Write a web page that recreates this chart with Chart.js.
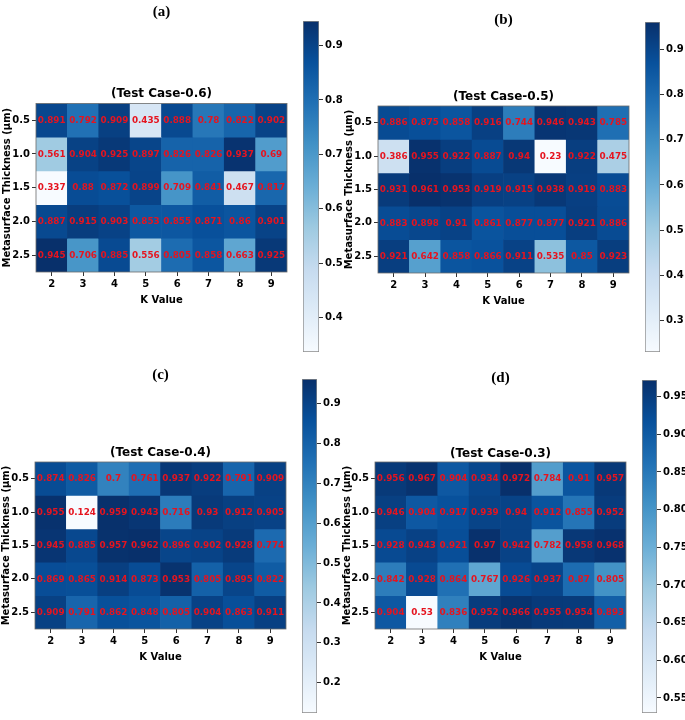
<!DOCTYPE html>
<html>
<head>
<meta charset="utf-8">
<script src="https://cdn.jsdelivr.net/npm/chart.js@4.4.1/dist/chart.umd.min.js"></script>
<style>
  html, body { margin: 0; padding: 0; background: #fff; overflow: hidden; }
  #fig { position: relative; width: 685px; height: 720px; overflow: hidden; }
  #fig canvas { position: absolute; }
</style>
</head>
<body>
<div id="fig">
  <canvas id="heatA"></canvas>
  <canvas id="heatB"></canvas>
  <canvas id="heatC"></canvas>
  <canvas id="heatD"></canvas>
  <canvas id="cbA"></canvas>
  <canvas id="cbB"></canvas>
  <canvas id="cbC"></canvas>
  <canvas id="cbD"></canvas>
</div>
<script>
// categories
const kValues = ['2', '3', '4', '5', '6', '7', '8', '9'];
const thickness = ['0.5', '1.0', '1.5', '2.0', '2.5'];

// one row per thickness, one column per K value
const case06 = [
  [0.891, 0.792, 0.909, 0.435, 0.888, 0.78, 0.822, 0.902],
  [0.561, 0.904, 0.925, 0.897, 0.826, 0.826, 0.937, 0.69],
  [0.337, 0.88, 0.872, 0.899, 0.709, 0.841, 0.467, 0.817],
  [0.887, 0.915, 0.903, 0.853, 0.855, 0.871, 0.86, 0.901],
  [0.945, 0.706, 0.885, 0.556, 0.805, 0.858, 0.663, 0.925],
];
const case05 = [
  [0.886, 0.875, 0.858, 0.916, 0.744, 0.946, 0.943, 0.785],
  [0.386, 0.955, 0.922, 0.887, 0.94, 0.23, 0.922, 0.475],
  [0.931, 0.961, 0.953, 0.919, 0.915, 0.938, 0.919, 0.883],
  [0.883, 0.898, 0.91, 0.861, 0.877, 0.877, 0.921, 0.886],
  [0.921, 0.642, 0.858, 0.866, 0.911, 0.535, 0.85, 0.923],
];
const case04 = [
  [0.874, 0.826, 0.7, 0.761, 0.937, 0.922, 0.791, 0.909],
  [0.955, 0.124, 0.959, 0.943, 0.716, 0.93, 0.912, 0.905],
  [0.945, 0.885, 0.957, 0.962, 0.896, 0.902, 0.928, 0.774],
  [0.869, 0.865, 0.914, 0.873, 0.953, 0.805, 0.895, 0.822],
  [0.909, 0.791, 0.862, 0.848, 0.805, 0.904, 0.863, 0.911],
];
const case03 = [
  [0.956, 0.967, 0.904, 0.934, 0.972, 0.784, 0.91, 0.957],
  [0.946, 0.904, 0.917, 0.939, 0.94, 0.912, 0.855, 0.952],
  [0.928, 0.943, 0.921, 0.97, 0.942, 0.782, 0.958, 0.968],
  [0.842, 0.928, 0.864, 0.767, 0.926, 0.937, 0.87, 0.805],
  [0.904, 0.53, 0.836, 0.952, 0.966, 0.955, 0.954, 0.893],
];

// colorbar tick labels
const cbTicks06 = [0.4, 0.5, 0.6, 0.7, 0.8, 0.9];
const cbTicks05 = [0.3, 0.4, 0.5, 0.6, 0.7, 0.8, 0.9];
const cbTicks04 = [0.2, 0.3, 0.4, 0.5, 0.6, 0.7, 0.8, 0.9];
const cbTicks03 = [0.55, 0.6, 0.65, 0.7, 0.75, 0.8, 0.85, 0.9, 0.95];

const FONT = "'DejaVu Sans', sans-serif";
const TEXT_RED = '#e5141f';

// matplotlib "Blues"
const blues = ['#f7fbff', '#deebf7', '#c6dbef', '#9ecae1', '#6baed6', '#4292c6', '#2171b5', '#08519c', '#08306b'];

function hexToRgb(h) {
  return [1, 3, 5].map(i => parseInt(h.slice(i, i + 2), 16));
}

function bluesColor(t) {
  t = Math.min(1, Math.max(0, t));
  const pos = t * (blues.length - 1);
  const i = Math.min(Math.floor(pos), blues.length - 2);
  const f = pos - i;
  const a = hexToRgb(blues[i]);
  const b = hexToRgb(blues[i + 1]);
  const c = a.map((v, k) => Math.round(v + (b[k] - v) * f));
  return `rgb(${c[0]}, ${c[1]}, ${c[2]})`;
}

const cellLabels = {
  id: 'cellLabels',
  afterDatasetsDraw(chart) {
    const { ctx } = chart;
    ctx.save();
    ctx.font = `bold 8.8px ${FONT}`;
    ctx.fillStyle = TEXT_RED;
    ctx.textAlign = 'center';
    ctx.textBaseline = 'middle';
    chart.data.datasets.forEach((ds, i) => {
      chart.getDatasetMeta(i).data.forEach((bar, j) => {
        const c = bar.getCenterPoint();
        ctx.fillText(String(ds.cellValues[j]), c.x, c.y + 0.5);
      });
    });
    ctx.restore();
  },
};

const frame = {
  id: 'frame',
  afterDraw(chart) {
    const { ctx, chartArea: a } = chart;
    ctx.save();
    ctx.strokeStyle = '#6b6b6b';
    ctx.lineWidth = 0.8;
    ctx.strokeRect(a.left, a.top, a.right - a.left, a.bottom - a.top);
    ctx.restore();
  },
};

const panels = [
  { heatId: 'heatA', cbId: 'cbA', label: '(a)', title: '(Test Case-0.6)', values: case06, cbTicks: cbTicks06, digits: 1,
    heat: { left: 0, top: 0, width: 290, height: 306, axisW: 36, yTitlePad: 1, labelY: 12, titleY: 94.2, plotTop: 103.4 },
    cb: { left: 303, top: 13, width: 56, height: 347, barW: 16 } },
  { heatId: 'heatB', cbId: 'cbB', label: '(b)', title: '(Test Case-0.5)', values: case05, cbTicks: cbTicks05, digits: 1,
    heat: { left: 337, top: 0, width: 295, height: 307, axisW: 41, yTitlePad: 6, labelY: 20, titleY: 97, plotTop: 106 },
    cb: { left: 645, top: 14, width: 55, height: 346, barW: 15 } },
  { heatId: 'heatC', cbId: 'cbC', label: '(c)', title: '(Test Case-0.4)', values: case04, cbTicks: cbTicks04, digits: 1,
    heat: { left: 0, top: 360, width: 289, height: 303, axisW: 35, yTitlePad: 0, labelY: 15, titleY: 93, plotTop: 102 },
    cb: { left: 302, top: 371, width: 55, height: 350, barW: 15 } },
  { heatId: 'heatD', cbId: 'cbD', label: '(d)', title: '(Test Case-0.3)', values: case03, cbTicks: cbTicks03, digits: 2,
    heat: { left: 335, top: 360, width: 294, height: 303, axisW: 40, yTitlePad: 6, labelY: 18, titleY: 94, plotTop: 102 },
    cb: { left: 642, top: 372, width: 55, height: 349, barW: 15 } },
];

function place(canvas, box) {
  canvas.width = box.width;
  canvas.height = box.height;
  canvas.style.left = box.left + 'px';
  canvas.style.top = box.top + 'px';
  canvas.style.width = box.width + 'px';
  canvas.style.height = box.height + 'px';
}

panels.forEach(p => {
  const flat = p.values.flat();
  const vmin = Math.min(...flat);
  const vmax = Math.max(...flat);
  const norm = v => (v - vmin) / (vmax - vmin);

  // ---- heatmap ----
  const hc = document.getElementById(p.heatId);
  place(hc, p.heat);
  const labelLine = 18;   // 15px * 1.2
  const titleLine = 14.4; // 12px * 1.2
  const labelPadTop = p.heat.labelY - labelLine / 2;
  const labelBottom = labelPadTop + labelLine;
  const titlePadTop = p.heat.titleY - titleLine / 2 - labelBottom;
  const titlePadBottom = p.heat.plotTop - (p.heat.titleY + titleLine / 2);

  new Chart(hc, {
    type: 'bar',
    data: {
      labels: kValues,
      datasets: p.values.map((row, r) => ({
        data: row.map(() => [r, r + 1]),
        cellValues: row,
        backgroundColor: row.map(v => bluesColor(norm(v))),
        borderWidth: 0,
        barPercentage: 1,
        categoryPercentage: 1,
        grouped: false,
      })),
    },
    options: {
      responsive: false,
      animation: false,
      events: [],
      layout: { padding: { left: 0, right: 3, top: 0, bottom: 0 } },
      plugins: {
        legend: { display: false },
        tooltip: { enabled: false },
        title: {
          display: true,
          text: p.label,
          fullSize: false,
          color: '#000',
          font: { family: "'Liberation Serif', serif", size: 15, weight: 'bold' },
          padding: { top: labelPadTop, bottom: 0 },
        },
        subtitle: {
          display: true,
          text: p.title,
          fullSize: false,
          color: '#000',
          font: { family: FONT, size: 12, weight: 'bold' },
          padding: { top: titlePadTop, bottom: titlePadBottom },
        },
      },
      scales: {
        x: {
          type: 'category',
          offset: true,
          grid: { display: true, offset: false, drawOnChartArea: false, drawTicks: true, tickLength: 4, color: '#333' },
          border: { display: false },
          ticks: { color: '#000', font: { family: FONT, size: 10, weight: 'bold' }, padding: 2, maxRotation: 0 },
          title: { display: true, text: 'K Value', color: '#000', font: { family: FONT, size: 10, weight: 'bold' }, padding: { top: 0, bottom: 0 } },
          afterFit: s => { s.height = 34; },
        },
        y: {
          type: 'linear',
          min: 0,
          max: thickness.length,
          reverse: true,
          grid: { display: true, drawOnChartArea: false, drawTicks: true, tickLength: 4, color: '#333' },
          border: { display: false },
          afterBuildTicks: s => { s.ticks = thickness.map((t, i) => ({ value: i + 0.5 })); },
          ticks: {
            color: '#000',
            font: { family: FONT, size: 10, weight: 'bold' },
            padding: 2,
            callback: (v, i) => thickness[i],
          },
          title: { display: true, text: 'Metasurface Thickness (μm)', color: '#000', font: { family: FONT, size: 10, weight: 'bold' }, padding: { top: p.heat.yTitlePad, bottom: 0 } },
          afterFit: s => { s.width = p.heat.axisW; },
        },
      },
    },
    plugins: [cellLabels, frame],
  });

  // ---- colorbar ----
  const cc = document.getElementById(p.cbId);
  place(cc, p.cb);
  new Chart(cc, {
    type: 'bar',
    data: {
      labels: [''],
      datasets: [{
        data: [[vmin, vmax]],
        barPercentage: 1,
        categoryPercentage: 1,
        borderWidth: 1,
        borderColor: '#8a8a8a',
        borderSkipped: false,
        backgroundColor: ctx => {
          const { chart } = ctx;
          const y = chart.scales.y;
          if (!chart.chartArea || !y) return blues[4];
          const g = chart.ctx.createLinearGradient(0, y.getPixelForValue(vmin), 0, y.getPixelForValue(vmax));
          blues.forEach((c, i) => g.addColorStop(i / (blues.length - 1), c));
          return g;
        },
      }],
    },
    options: {
      responsive: false,
      animation: false,
      events: [],
      layout: { padding: { top: 8, bottom: 8, left: 0, right: 0 } },
      plugins: { legend: { display: false }, tooltip: { enabled: false } },
      scales: {
        x: { display: false },
        y: {
          position: 'right',
          min: vmin,
          max: vmax,
          grid: { display: true, drawOnChartArea: false, drawTicks: true, tickLength: 4, color: '#333' },
          border: { display: false },
          afterBuildTicks: s => { s.ticks = p.cbTicks.map(v => ({ value: v })); },
          ticks: {
            color: '#000',
            font: { family: FONT, size: 10, weight: 'bold' },
            padding: 2,
            callback: v => v.toFixed(p.digits),
          },
          afterFit: s => { s.width = p.cb.width - p.cb.barW; },
        },
      },
    },
  });
});
</script>
</body>
</html>
